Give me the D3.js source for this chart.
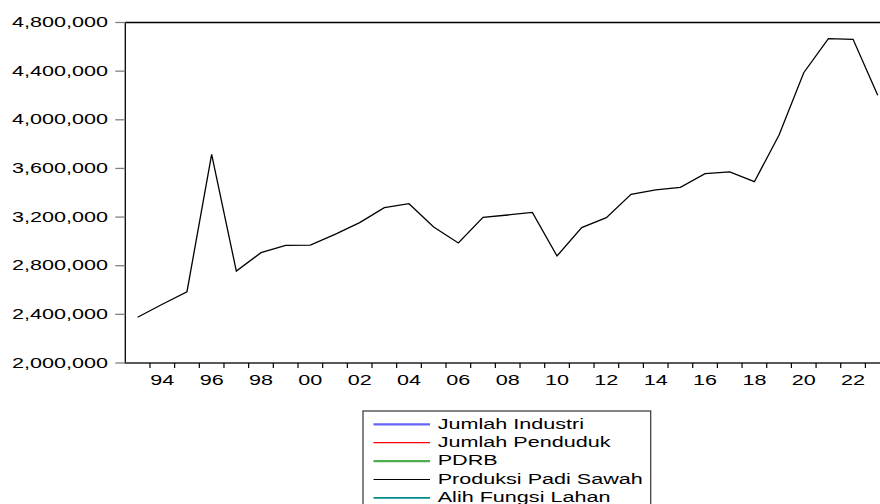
<!DOCTYPE html>
<html>
<head>
<meta charset="utf-8">
<script src="https://cdn.jsdelivr.net/npm/d3@7"></script>
<style>
  html, body { margin: 0; padding: 0; background: #fff; }
  svg { display: block; }
  text { font-family: "Liberation Sans", Arial, sans-serif; fill: #000; }
</style>
</head>
<body>
<svg id="chart" width="880" height="504"></svg>
<script>
// ---- data ----
const years = [1993,1994,1995,1996,1997,1998,1999,2000,2001,2002,2003,2004,2005,2006,2007,2008,2009,2010,2011,2012,2013,2014,2015,2016,2017,2018,2019,2020,2021,2022,2023];
const produksiPadiSawah = [2376000,2483000,2586000,3716000,2756000,2907000,2968000,2970000,3058000,3154000,3277000,3310000,3118000,2987000,3198000,3217000,3239000,2880000,3113000,3195000,3387000,3423000,3445000,3557000,3571000,3491000,3875000,4387000,4667000,4662000,4201000];
const yTicks = [2000000,2400000,2800000,3200000,3600000,4000000,4400000,4800000];
const xLabelYears = [1994,1996,1998,2000,2002,2004,2006,2008,2010,2012,2014,2016,2018,2020,2022];
const legendNames = ["Jumlah Industri","Jumlah Penduduk","PDRB","Produksi Padi Sawah","Alih Fungsi Lahan"];
const legendColors = ["#6464f5","#ff0000","#4cae4c","#000000","#008b8b"];
const legendWidths = [2.2,1.3,2.2,1.1,1.6];

// ---- layout ----
const svg = d3.select("#chart");
const plotLeft = 125.3, plotTop = 22.5, plotBottom = 363;
const yearStep = 24.67;
const SX = 1.49; // horizontal text stretch
const FS = 14.5;

const x = d3.scaleLinear().domain([1992.5, 2023.5]).range([plotLeft, plotLeft + 31 * yearStep]);
const y = d3.scaleLinear().domain([2000000, 4800000]).range([plotBottom, plotTop]);

function stretchedText(g, tx, ty, str, anchor) {
  return g.append("text")
    .attr("transform", `translate(${tx},${ty}) scale(${SX},1)`)
    .attr("text-anchor", anchor || "start")
    .attr("font-size", FS)
    .text(str);
}

// frame: top, left, bottom
svg.append("line").attr("x1", plotLeft).attr("x2", 880).attr("y1", plotTop).attr("y2", plotTop)
  .attr("stroke", "#000").attr("stroke-width", 1.3);
svg.append("line").attr("x1", plotLeft).attr("x2", plotLeft).attr("y1", plotTop).attr("y2", plotBottom)
  .attr("stroke", "#000").attr("stroke-width", 1.3);
svg.append("line").attr("x1", plotLeft - 0.6).attr("x2", 880).attr("y1", plotBottom).attr("y2", plotBottom)
  .attr("stroke", "#222").attr("stroke-width", 1.3);

// y ticks + labels
const fmt = d3.format(",");
const yg = svg.append("g");
yTicks.forEach(v => {
  yg.append("line").attr("x1", plotLeft - 10).attr("x2", plotLeft).attr("y1", y(v)).attr("y2", y(v))
    .attr("stroke", "#808080").attr("stroke-width", 1.3);
  stretchedText(yg, 108, y(v) + 4.5, fmt(v), "end");
});

// x ticks at year boundaries
const xg = svg.append("g");
d3.range(1993, 2024).forEach(yr => {
  const px = x(yr + 0.5);
  if (px > 880) return;
  xg.append("line").attr("x1", px).attr("x2", px).attr("y1", plotBottom).attr("y2", plotBottom + 5)
    .attr("stroke", "#000").attr("stroke-width", 1.2);
});
xLabelYears.forEach(yr => {
  stretchedText(xg, x(yr), 385, String(yr % 100).padStart(2, "0"), "middle");
});

// series line
const line = d3.line().x((d, i) => x(years[i])).y(d => y(d));
svg.append("path").datum(produksiPadiSawah)
  .attr("d", line).attr("fill", "none").attr("stroke", "#000").attr("stroke-width", 1.3)
  .attr("stroke-linejoin", "miter");

// legend
const lg = svg.append("g");
lg.append("rect").attr("x", 363).attr("y", 411).attr("width", 287.7).attr("height", 110)
  .attr("fill", "#fff").attr("stroke", "#333").attr("stroke-width", 1.2);
legendNames.forEach((name, i) => {
  const ly = 424.3 + i * 18.4;
  lg.append("line").attr("x1", 373.5).attr("x2", 430).attr("y1", ly).attr("y2", ly)
    .attr("stroke", legendColors[i]).attr("stroke-width", legendWidths[i]);
  stretchedText(lg, 437.7, ly + 4.3, name, "start");
});
</script>
</body>
</html>
